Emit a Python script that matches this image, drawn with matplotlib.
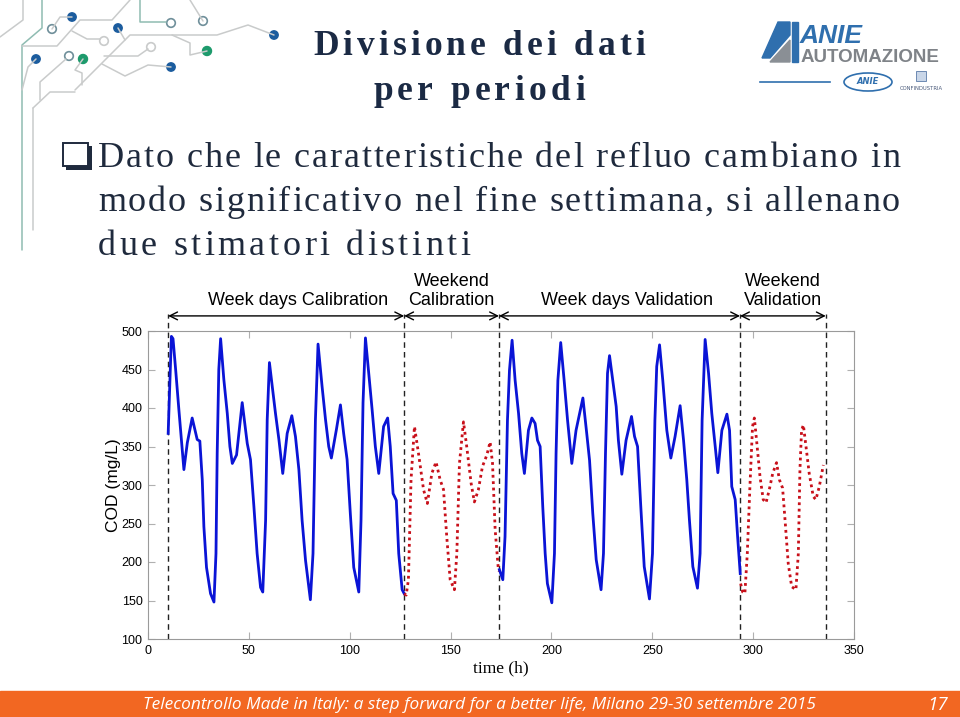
import matplotlib
matplotlib.use("Agg")
import matplotlib.pyplot as plt
from matplotlib.patches import Rectangle, Circle, Ellipse, Polygon
from matplotlib.font_manager import FontProperties
from matplotlib.textpath import TextToPath

# ---------------- data ----------------
wd_cal_t = [10, 11.6, 12.4, 13.7, 15.3, 17.8, 19.5, 21.9, 24.4, 25.7, 26.9, 27.7, 29, 31, 32.7,
            33.7, 34.3, 35.1, 36, 37.6, 39.3, 40.6, 41.8, 43.9, 46.7, 49.2, 50.8, 52.5, 54.1,
            55.8, 56.9, 58.3, 59.1, 60.2, 61.6, 63.2, 64.9, 66.8, 69, 71.3, 73.1, 74.8, 76.4,
            78.1, 80.5, 81.8, 83, 84.3, 86.3, 88, 89.6, 90.9, 93.4, 95.4, 97, 98.7, 100.3, 102,
            104.5, 105.6, 106.6, 107.8, 109.4, 111.1, 112.7, 114.4, 116.8, 118.8, 120.1, 121.5,
            123.1, 124.3, 126, 127]
wd_cal_cod = [367, 493, 490, 450, 398, 320, 355, 387, 359, 357, 307, 246, 193, 159, 148,
              211, 341, 450, 490, 437, 393, 350, 328, 339, 407, 354, 333, 272, 211,
              167, 161, 254, 385, 459, 428, 393, 359, 315, 367, 390, 363, 320, 254,
              202, 151, 211, 385, 483, 428, 385, 350, 335, 372, 404, 367, 333, 263, 193,
              161, 254, 407, 491, 446, 398, 350, 315, 376, 387, 350, 289,
              280, 211, 164, 159]

we_cal_t = [127, 128, 129.1, 130.4, 132.1, 134.1, 136.6, 138.5, 140.7, 142.8, 144.8, 146.5,
            148.1, 149.8, 151.9, 153.1, 154.4, 156.4, 158, 160.2, 161.8, 163.8, 165.8, 168,
            169.6, 170.8, 172.1, 173.7, 174.2]
we_cal_cod = [159, 157, 177, 307, 376, 341, 294, 276, 315, 330, 307, 294,
              233, 177, 164, 211, 328, 382, 350, 302, 278, 294, 324, 339,
              356, 328, 242, 190, 188]

wd_val_t = [174.2, 175.9, 177, 178.2, 179.2, 180.5, 182, 183.7, 185.3, 186.6, 188.6, 190.3,
            191.9, 193.1, 194.4, 195.7, 196.9, 198, 200.2, 201.5, 202.3, 203.2, 204.6, 206.3,
            208, 210.1, 212.2, 215.6, 217.5, 218.9, 220.5, 222.2, 224.6, 225.8, 226.8, 227.8,
            228.8, 230.4, 232.1, 233.2, 234.9, 237, 239.7, 241.2, 242.7, 244.3, 246, 248.6,
            250.1, 251.3, 252.2, 253.6, 255.2, 257.2, 259.2, 261.3, 263.8, 265.5, 267.1, 268.4,
            270.1, 272.4, 273.7, 274.7, 276.2, 277.9, 279.5, 281.2, 282.5, 284.5, 287, 288.3,
            289.4, 291.1, 292.3, 293.6]
wd_val_cod = [190, 177, 233, 384, 449, 488, 436, 393, 341, 315, 371, 387,
              380, 358, 350, 272, 211, 172, 147, 211, 341, 436, 485, 436,
              384, 328, 371, 413, 367, 332, 263, 203, 164, 211, 341, 445,
              468, 436, 402, 358, 314, 358, 389, 363, 350, 272, 194, 152,
              211, 384, 454, 482, 436, 371, 335, 363, 403, 358, 307, 255,
              194, 166, 211, 384, 489, 445, 393, 350, 316, 371, 392, 371,
              298, 281, 233, 185]

we_val_t = [293.8, 294.8, 295.9, 297.1, 298.4, 299.7, 300.6, 301.7, 303.4, 305, 306.4, 308,
            309.7, 311.6, 313, 314.6, 315.8, 317.4, 319.1, 321.2, 322.4, 323.2, 324, 324.9,
            326.2, 327.8, 329.8, 331.1, 332.8, 334.8]
we_val_cod = [172, 161, 159, 211, 298, 376, 387, 358, 311, 281, 277, 294,
              315, 329, 307, 296, 255, 198, 168, 164, 211, 320, 371, 378,
              350, 315, 285, 281, 298, 326]

period_bounds = [10, 127, 174, 293.5, 336]
period_labels = ["Week days Calibration", "Weekend\nCalibration",
                 "Week days Validation", "Weekend\nValidation"]
period_label_x = [74.4, 150.5, 237.5, 314.8]
x_ticks = [0, 50, 100, 150, 200, 250, 300, 350]
y_ticks = [100, 150, 200, 250, 300, 350, 400, 450, 500]

title_lines = ["Divisione dei dati", "per periodi"]
body_lines = ["Dato che le caratteristiche del refluo cambiano in",
              "modo significativo nel fine settimana, si allenano",
              "due stimatori distinti"]
footer = "Telecontrollo Made in Italy: a step forward for a better life, Milano 29-30 settembre 2015"
page_no = "17"

# ---------------- figure ----------------
W, H = 960, 717
DPI = 100
fig = plt.figure(figsize=(W / DPI, H / DPI), dpi=DPI)
fig.patch.set_facecolor("white")

_ttp = TextToPath()


def _w(s, prop):
    w, h, d = _ttp.get_text_width_height_descent(s, prop, ismath=False)
    return w * DPI / 72.0


def spaced_text(ax, s, x_left, x_right, y, **kw):
    """Draw s char by char with even letter spacing so it spans x_left..x_right (pixels)."""
    prop = FontProperties(family=kw.pop("family"), size=kw.pop("fontsize"),
                          weight=kw.pop("fontweight", "normal"))
    natural = _w(s, prop)
    n = len(s)
    sp = (x_right - x_left - natural) / max(n - 1, 1)
    for i, c in enumerate(s):
        if c == " ":
            continue
        pos = _w(s[:i + 1], prop) - _w(c, prop)
        ax.text(x_left + pos + sp * i, y, c, fontproperties=prop,
                ha="left", va="baseline", **kw)


# overlay axes in pixel coordinates for slide decoration
deco = fig.add_axes([0, 0, 1, 1], zorder=0)
deco.set_xlim(0, W)
deco.set_ylim(H, 0)
deco.axis("off")
grey = "#c9cbcb"
teal = "#8fbcb2"
paths = [
    ([(42, 0), (42, 28), (22, 45), (22, 250)], teal),
    ([(140, 0), (140, 22), (166, 22)], teal),
    ([(0, 37), (23, 20), (23, 0)], grey),
    ([(52, 29), (60, 17), (72, 17)], grey),
    ([(22, 46), (57, 46), (80, 20), (112, 20), (130, 0)], grey),
    ([(72, 31), (87, 39), (100, 39)], grey),
    ([(118, 28), (125, 40)], grey),
    ([(75, 90), (130, 35), (217, 35), (248, 25), (274, 35)], grey),
    ([(104, 56), (138, 56), (148, 49)], grey),
    ([(102, 64), (125, 76), (148, 65), (171, 67)], grey),
    ([(172, 35), (190, 43), (190, 55), (207, 51)], grey),
    ([(66, 59), (40, 82), (40, 100)], grey),
    ([(33, 108), (50, 92), (75, 92)], grey),
    ([(33, 108), (33, 230)], grey),
    ([(83, 59), (75, 70), (82, 73), (82, 85)], grey),
    ([(36, 59), (28, 67), (22, 90)], grey),
    ([(203, 21), (190, 0)], grey),
]
for pts, col in paths:
    xs, ys = zip(*pts)
    deco.plot(xs, ys, color=col, lw=1.1, solid_capstyle="round")
for (cx, cy) in [(72, 17), (118, 28), (274, 35), (36, 59), (171, 67)]:
    deco.add_patch(Circle((cx, cy), 4.2, color="#1b5c9e"))
for (cx, cy) in [(83, 59), (207, 51)]:
    deco.add_patch(Circle((cx, cy), 4.5, color="#1d9a6c"))
for (cx, cy), ec in [((52, 29), "#6f8f9a"), ((104, 41), grey), ((151, 47), grey),
                     ((69, 56), "#6f8f9a"), ((171, 23), "#6f8f9a"), ((203, 21), "#6f8f9a")]:
    deco.add_patch(Circle((cx, cy), 4.3, facecolor="white", edgecolor=ec, lw=1.2))

# logo (top right)
deco.add_patch(Polygon([(762, 58), (778, 22), (790, 22), (790, 35), (770, 58)],
                       closed=True, color="#2f6fae"))
deco.add_patch(Polygon([(770, 62), (790, 40), (790, 62)], closed=True, color="#8a8f95"))
deco.add_patch(Rectangle((792, 22), 6, 40, color="#2f6fae"))
deco.text(800, 43, "ANIE", fontsize=19, fontweight="bold", style="italic",
          color="#2f6fae", family="Liberation Sans", va="baseline", ha="left")
deco.text(801, 62, "AUTOMAZIONE", fontsize=13.5, fontweight="bold",
          color="#7f8388", family="Liberation Sans", va="baseline", ha="left")
deco.plot([760, 830], [82, 82], color="#2f6fae", lw=1.2)
deco.add_patch(Ellipse((868, 82), 48, 18, facecolor="white", edgecolor="#2f6fae", lw=1.2))
deco.text(868, 81, "ANIE", fontsize=6, fontweight="bold", style="italic",
          color="#2f6fae", ha="center", va="center")
deco.add_patch(Rectangle((916, 71), 10, 10, facecolor="#c9d6e8", edgecolor="#5a7aa8", lw=0.6))
deco.text(921, 89, "CONFINDUSTRIA", fontsize=3.8, color="#4a5a7a", ha="center", va="center")

# checkbox bullet
deco.add_patch(Rectangle((66, 146), 26, 24, facecolor="#1f2a3d"))
deco.add_patch(Rectangle((63, 143), 25, 23, facecolor="white", edgecolor="#1f2a3d", lw=1.4))

# bottom bar
deco.add_patch(Rectangle((0, 691), W, 26, color="#f26722"))
deco.text(479, 705, footer, fontsize=12.4, style="italic", color="white",
          family="Open Sans", ha="center", va="center")
deco.text(938, 705, page_no, fontsize=13.5, style="italic", color="white",
          family="Open Sans", ha="center", va="center")

# title (letter-spaced, bold serif)
spaced_text(deco, title_lines[0], 313, 645, 55, family="Liberation Serif", fontsize=25.5,
            fontweight="bold", color="#1b2a44")
spaced_text(deco, title_lines[1], 373, 585, 100, family="Liberation Serif", fontsize=25.5,
            fontweight="bold", color="#1b2a44")

# bullet text
body_right = [900, 900, 470]
for i, line in enumerate(body_lines):
    spaced_text(deco, line, 98, body_right[i], 167 + i * 44, family="Liberation Serif",
                fontsize=26, color="#1f2a3d")

# ---------------- chart ----------------
ax = fig.add_axes([148 / W, 1 - 639 / H, 706 / W, 308 / H], zorder=2)
ax.patch.set_alpha(0)
ax.plot(wd_cal_t, wd_cal_cod, color="#0a14d6", lw=2.0, zorder=3)
ax.plot(we_cal_t, we_cal_cod, color="#c8101a", lw=2.0, ls=(0, (1, 1.3)), zorder=3)
ax.plot(wd_val_t, wd_val_cod, color="#0a14d6", lw=2.0, zorder=3)
ax.plot(we_val_t, we_val_cod, color="#c8101a", lw=2.0, ls=(0, (1, 1.3)), zorder=3)

ax.set_xlim(0, 350)
ax.set_ylim(100, 500)
ax.set_xticks(x_ticks)
ax.set_yticks(y_ticks)
ax.tick_params(direction="in", length=5, color="#b0b0b0", labelsize=9,
               top=True, right=True, pad=4)
for lab in ax.get_xticklabels() + ax.get_yticklabels():
    lab.set_family("Liberation Sans")
for s in ax.spines.values():
    s.set_color("#9a9a9a")
    s.set_linewidth(0.8)

ax.set_ylabel("COD (mg/L)", fontsize=12.5, family="Liberation Sans", labelpad=0)
ax.set_xlabel("time (h)", fontsize=12.5, family="Liberation Serif", labelpad=3)

trans = ax.get_xaxis_transform()
for xb in period_bounds:
    ax.plot([xb, xb], [0, 1.055], transform=trans, color="#222222", lw=1.0,
            ls=(0, (4, 3)), clip_on=False, zorder=2)
arrow_y = 1.049
for i, lab in enumerate(period_labels):
    x0, x1 = period_bounds[i], period_bounds[i + 1]
    ax.annotate("", xy=(x1, arrow_y), xytext=(x0, arrow_y), xycoords=trans,
                textcoords=trans,
                arrowprops=dict(arrowstyle="<->", color="black", lw=1.0,
                                shrinkA=0, shrinkB=0, mutation_scale=14),
                annotation_clip=False)
    ax.text(period_label_x[i], 1.072, lab, transform=trans, ha="center", va="bottom",
            fontsize=13, family="Liberation Sans", linespacing=1.15)

fig.savefig("out.png", dpi=DPI, facecolor="white")
